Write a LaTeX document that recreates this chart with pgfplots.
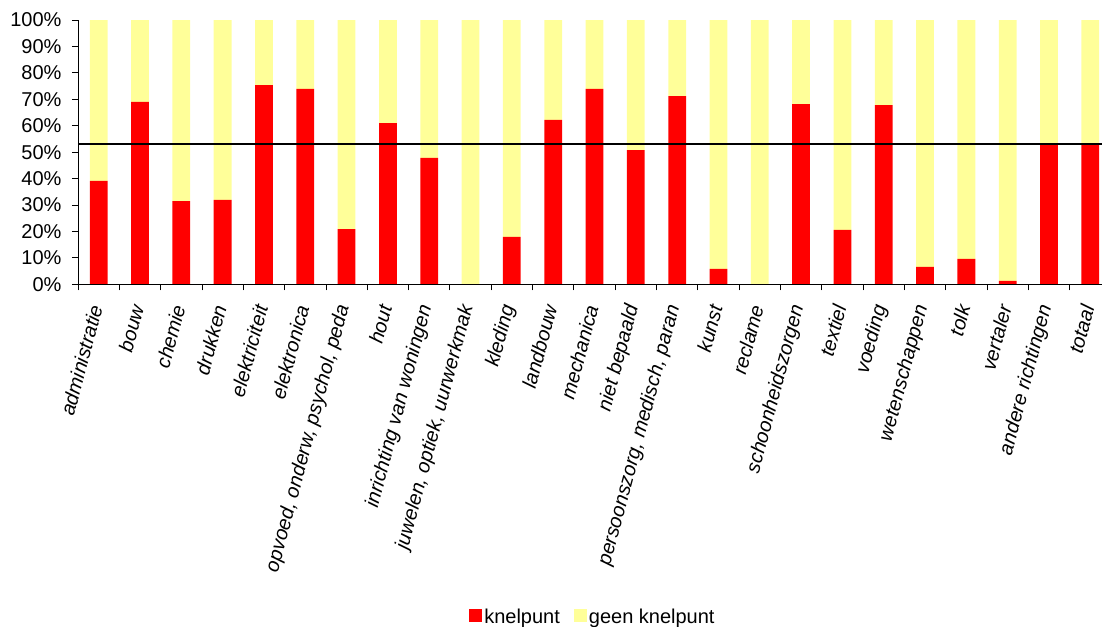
\documentclass[border=0pt]{standalone}
\usepackage{pgfplots}
\usepackage{pgfplotstable}
\pgfplotsset{compat=1.18}
\usepackage{fontspec}
\setmainfont{Liberation Sans}
\definecolor{knel}{HTML}{FF0000}
\definecolor{geen}{HTML}{FFFF99}
\pgfplotstableread{
x k g
0 39.1 60.9
1 69.0 31.0
2 31.5 68.5
3 31.9 68.1
4 75.4 24.6
5 73.9 26.1
6 20.9 79.1
7 61.0 39.0
8 47.8 52.2
9 0 100
10 17.9 82.1
11 62.2 37.8
12 73.9 26.1
13 50.8 49.2
14 71.2 28.8
15 5.8 94.2
16 0 100
17 68.2 31.8
18 20.6 79.4
19 67.8 32.2
20 6.6 93.4
21 9.6 90.4
22 1.3 98.7
23 53.0 47.0
24 53.0 47.0
}\data
\begin{document}
\begin{tikzpicture}
\begin{axis}[
  at={(0pt,0pt)}, anchor=south west,
  scale only axis, width=1033pt, height=264.3pt,
  ybar stacked, bar width=0.43,
  xmin=-0.5, xmax=24.5, ymin=0, ymax=100,
  enlargelimits=false,
  axis x line*=bottom, axis y line*=left,
  axis line style={black, line width=0.8pt},
  axis on top,
  xtick={-0.5,0.5,...,24.5},
  x tick label as interval,
  xticklabels={administratie,bouw,chemie,drukken,elektriciteit,elektronica,{opvoed, onderw, psychol, peda},hout,inrichting van woningen,{juwelen, optiek, uurwerkmak},kleding,landbouw,mechanica,niet bepaald,{persoonszorg, medisch, paran},kunst,reclame,schoonheidszorgen,textiel,voeding,wetenschappen,tolk,vertaler,andere richtingen,totaal},
  tick align=outside, major tick length=6pt,
  tick style={black, line width=0.8pt},
  ytick={0,10,...,100},
  yticklabel={\pgfmathparse{int(round(\tick))}\pgfmathresult\%},
  xticklabel style={xshift=-2pt, yshift=-13pt, rotate=75, anchor=east, font=\fontsize{20}{24}\itshape\selectfont, inner sep=2pt},
  yticklabel style={font=\fontsize{20}{24}\selectfont, xshift=-7pt},
  extra y ticks={53}, extra y tick labels={},
  extra y tick style={grid=major, major grid style={black, line width=1.5pt}, major tick length=0pt},
  legend style={at={(0.4985,-1.26)}, anchor=center, draw=none, legend columns=2,
    font=\fontsize{20}{24}\selectfont,
    /tikz/every even column/.append style={column sep=12pt}},
  legend image code/.code={\fill[#1] (0pt,-5pt) rectangle (13pt,8pt);},
]
\addplot[fill=knel, draw=none] table[x=x, y=k] {\data};
\addlegendentry{knelpunt}
\addplot[fill=geen, draw=none] table[x=x, y=g] {\data};
\addlegendentry{geen knelpunt}
\end{axis}
\pgfresetboundingbox
\path[use as bounding box] (-78pt,-341.7pt) rectangle (1024pt,284.3pt);
\end{tikzpicture}
\end{document}
